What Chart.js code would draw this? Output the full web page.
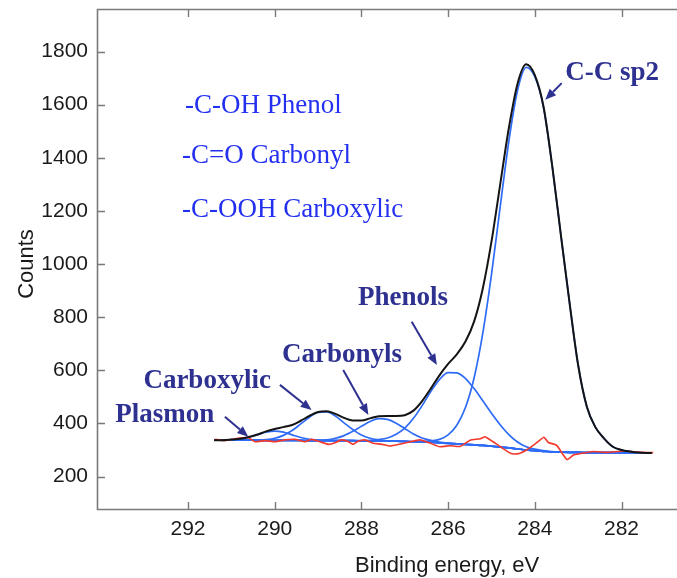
<!DOCTYPE html>
<html>
<head>
<meta charset="utf-8">
<script src="https://cdn.jsdelivr.net/npm/chart.js@4.4.1/dist/chart.umd.min.js"></script>
<style>
  html, body { margin: 0; padding: 0; background: #ffffff; }
  canvas { display: block; }
</style>
</head>
<body>
<canvas id="xps" width="677" height="578"></canvas>
<script>
// C 1s spectrum: binding energy grid (eV) shared by the fit curves
const energies = [291.4, 291.2, 291.0, 290.8, 290.6, 290.4, 290.2, 290.0, 289.8, 289.6,
  289.4, 289.2, 289.0, 288.8, 288.6, 288.4, 288.2, 288.0, 287.8, 287.6,
  287.4, 287.2, 287.0, 286.8, 286.6, 286.4, 286.2, 286.0, 285.8, 285.6,
  285.4, 285.2, 285.0, 284.8, 284.6, 284.4, 284.2, 284.0, 283.8, 283.6,
  283.4, 283.2, 283.0, 282.8, 282.6, 282.4, 282.2, 282.0, 281.8, 281.6,
  281.4, 281.3];

// Shirley background
const background = [337, 337, 337, 337, 337, 336, 336, 336, 336, 336,
  336, 335, 335, 335, 335, 335, 335, 334, 334, 334,
  333, 333, 332, 331, 330, 329, 327, 325, 323, 321,
  319, 317, 314, 311, 308, 304, 300, 297, 295, 293,
  292, 291, 291, 290, 290, 290, 290, 290, 290, 289,
  289, 289];

// Fitted components (counts, background included)
const plasmon = [337, 337, 339, 342, 348, 357, 367, 371, 367, 357,
  347, 340, 337, 335, 335, 335, 335, 334, 334, 334,
  333, 333, 332, 331, 330, 329, 327, 325, 323, 321,
  319, 317, 314, 311, 308, 304, 300, 297, 295, 293,
  292, 291, 291, 290, 290, 290, 290, 290, 290, 289,
  289, 289];

const carboxylic = [337, 337, 337, 337, 337, 337, 339, 344, 355, 373,
  398, 423, 441, 443, 428, 402, 377, 356, 344, 338,
  334, 333, 332, 331, 330, 329, 327, 325, 323, 321,
  319, 317, 314, 311, 308, 304, 300, 297, 295, 293,
  292, 291, 291, 290, 290, 290, 290, 290, 290, 289,
  289, 289];

const carbonyl = [337, 337, 337, 337, 337, 336, 336, 336, 336, 336,
  336, 335, 336, 338, 344, 354, 370, 389, 407, 418,
  415, 401, 381, 360, 345, 336, 330, 326, 323, 321,
  319, 317, 314, 311, 308, 304, 300, 297, 295, 293,
  292, 291, 291, 290, 290, 290, 290, 290, 290, 289,
  289, 289];

const phenol = [337, 337, 337, 337, 337, 336, 336, 336, 336, 336,
  336, 335, 335, 335, 335, 335, 335, 335, 336, 339,
  345, 359, 382, 419, 467, 520, 565, 591, 590, 569,
  531, 485, 438, 395, 358, 330, 312, 303, 298, 294,
  292, 291, 291, 290, 290, 290, 290, 290, 290, 289,
  289, 289];

const sp2 = [337, 337, 337, 337, 337, 336, 336, 336, 336, 336,
  336, 335, 335, 335, 335, 335, 335, 334, 334, 334,
  333, 333, 332, 331, 332, 334, 340, 357, 393, 460,
  572, 740, 960, 1214, 1461, 1652, 1740, 1705, 1590, 1370,
  1111, 856, 619, 463, 385, 343, 312, 300, 294, 290,
  289, 289];

// Envelope of the fit
const envelope = [337, 337, 339, 342, 349, 358, 370, 379, 386, 394,
  410, 428, 443, 446, 436, 421, 411, 411, 419, 427,
  428, 428, 431, 448, 484, 531, 581, 624, 660, 708,
  784, 908, 1084, 1298, 1511, 1678, 1752, 1711, 1593, 1371,
  1111, 856, 619, 463, 385, 343, 312, 300, 294, 290,
  289, 289];

// Residual trace (own energy sampling)
const residualEnergies = [291.38, 291.15, 290.84, 290.61, 290.46, 290.22, 289.99, 289.76, 289.53, 289.30,
  289.15, 288.96, 288.76, 288.61, 288.46, 288.30, 288.19, 288.07, 287.92, 287.73,
  287.55, 287.34, 287.11, 286.88, 286.65, 286.42, 286.19, 285.96, 285.73, 285.49,
  285.26, 285.15, 285.03, 284.88, 284.73, 284.61, 284.50, 284.34, 284.19, 284.03,
  283.92, 283.79, 283.69, 283.50, 283.26, 283.11, 282.96, 282.65, 282.34, 281.96,
  281.57, 281.27];
const residualCounts = [340, 335, 344, 346, 331, 335, 331, 338, 340, 331,
  340, 331, 321, 327, 338, 331, 321, 334, 338, 325,
  322, 315, 322, 331, 338, 326, 312, 316, 313, 337,
  342, 350, 338, 322, 305, 292, 285, 288, 300, 318,
  332, 348, 328, 318, 264, 281, 286, 294, 291, 296,
  291, 290];

// Axis ticks
const xTicks = [292, 290, 288, 286, 284, 282];
const yTicks = [200, 400, 600, 800, 1000, 1200, 1400, 1600, 1800];

// Chemical-state legend text and peak labels with their arrows (data units)
const stateNotes = ['-C-OH Phenol', '-C=O Carbonyl', '-C-OOH Carboxylic'];
const stateNoteAnchors = [[292.07, 1569], [292.14, 1381], [292.14, 1178]];
const peakLabels = ['C-C sp2', 'Phenols', 'Carbonyls', 'Carboxylic', 'Plasmon'];
const peakLabelAnchors = [[283.30, 1693], [288.08, 846], [289.83, 631], [293.03, 532], [293.68, 406]];
const arrowTails = [[283.38, 1681], [286.84, 783], [288.42, 601], [289.88, 545], [291.15, 425]];
const arrowHeads = [[283.76, 1618], [286.26, 620], [287.84, 432], [289.15, 450], [290.61, 350]];

const toPoints = (xs, ys) => xs.map((x, i) => ({ x: x, y: ys[i] }));

const BLUE = '#2f6cf6';
const NAVY = '#2e3190';
const NOTE_BLUE = '#2430f0';

const frameAndNotes = {
  id: 'frameAndNotes',
  afterDraw(chart) {
    const ctx = chart.ctx;
    const area = chart.chartArea;
    const xs = chart.scales.x, ys = chart.scales.y;
    ctx.save();

    // axis box (left, top, bottom)
    ctx.strokeStyle = '#7a7a7a';
    ctx.lineWidth = 1.6;
    ctx.beginPath();
    ctx.moveTo(area.right, area.top + 0.5);
    ctx.lineTo(area.left + 0.5, area.top + 0.5);
    ctx.lineTo(area.left + 0.5, area.bottom - 0.5);
    ctx.lineTo(area.right, area.bottom - 0.5);
    ctx.stroke();

    // inward tick marks
    ctx.lineWidth = 1.4;
    ctx.beginPath();
    yTicks.forEach(v => {
      const py = Math.round(ys.getPixelForValue(v)) + 0.5;
      ctx.moveTo(area.left, py);
      ctx.lineTo(area.left + 8, py);
    });
    xTicks.forEach(v => {
      const px = Math.round(xs.getPixelForValue(v)) + 0.5;
      ctx.moveTo(px, area.bottom);
      ctx.lineTo(px, area.bottom - 8);
      ctx.moveTo(px, area.top);
      ctx.lineTo(px, area.top + 8);
    });
    ctx.stroke();

    // axis titles
    ctx.fillStyle = '#1a1a1a';
    ctx.font = '22px "Liberation Sans", Arial, sans-serif';
    ctx.textAlign = 'left';
    ctx.textBaseline = 'alphabetic';
    ctx.fillText('Binding energy, eV', 355, 572);
    ctx.save();
    ctx.translate(33, 264);
    ctx.rotate(-Math.PI / 2);
    ctx.textAlign = 'center';
    ctx.fillText('Counts', 0, 0);
    ctx.restore();

    // chemical-state notes
    ctx.fillStyle = NOTE_BLUE;
    ctx.font = '27px "Liberation Serif", "Times New Roman", serif';
    ctx.textAlign = 'left';
    stateNotes.forEach((t, i) => {
      const a = stateNoteAnchors[i];
      ctx.fillText(t, xs.getPixelForValue(a[0]), ys.getPixelForValue(a[1]));
    });

    // peak labels
    ctx.fillStyle = NAVY;
    ctx.font = 'bold 27px "Liberation Serif", "Times New Roman", serif';
    peakLabels.forEach((t, i) => {
      const a = peakLabelAnchors[i];
      ctx.fillText(t, xs.getPixelForValue(a[0]), ys.getPixelForValue(a[1]));
    });

    // arrows
    ctx.strokeStyle = NAVY;
    ctx.lineWidth = 2;
    arrowTails.forEach((tail, i) => {
      const x0 = xs.getPixelForValue(tail[0]), y0 = ys.getPixelForValue(tail[1]);
      const x1 = xs.getPixelForValue(arrowHeads[i][0]), y1 = ys.getPixelForValue(arrowHeads[i][1]);
      const ang = Math.atan2(y1 - y0, x1 - x0);
      const len = 11, half = 4.5;
      const bx = x1 - len * Math.cos(ang), by = y1 - len * Math.sin(ang);
      ctx.beginPath();
      ctx.moveTo(x0, y0);
      ctx.lineTo(bx, by);
      ctx.stroke();
      ctx.beginPath();
      ctx.moveTo(x1, y1);
      ctx.lineTo(bx + half * Math.sin(ang), by - half * Math.cos(ang));
      ctx.lineTo(bx - half * Math.sin(ang), by + half * Math.cos(ang));
      ctx.closePath();
      ctx.fill();
    });

    ctx.restore();
  }
};

const blueLine = (label, values) => ({
  label: label,
  data: toPoints(energies, values),
  borderColor: BLUE,
  borderWidth: 1.7,
  cubicInterpolationMode: 'monotone',
  order: 3
});

new Chart(document.getElementById('xps'), {
  type: 'line',
  data: {
    datasets: [
      {
        label: 'Envelope',
        data: toPoints(energies, envelope),
        borderColor: '#141414',
        borderWidth: 2,
        cubicInterpolationMode: 'monotone',
        order: 0
      },
      {
        label: 'Residual',
        data: toPoints(residualEnergies, residualCounts),
        borderColor: '#f2392b',
        borderWidth: 1.6,
        tension: 0.15,
        order: 1
      },
      blueLine('Background', background),
      blueLine('Plasmon', plasmon),
      blueLine('Carboxylic', carboxylic),
      blueLine('Carbonyl', carbonyl),
      blueLine('Phenol', phenol),
      blueLine('C-C sp2', sp2)
    ]
  },
  options: {
    responsive: false,
    animation: false,
    devicePixelRatio: 1,
    layout: { padding: { top: 9, right: 0, bottom: 0, left: 0 } },
    elements: { point: { radius: 0 } },
    plugins: { legend: { display: false }, tooltip: { enabled: false } },
    scales: {
      x: {
        type: 'linear',
        reverse: true,
        min: 280.72,
        max: 294.10,
        afterBuildTicks: s => { s.ticks = xTicks.map(v => ({ value: v })); },
        afterFit: s => { s.height = 68; s.paddingLeft = 0; s.paddingRight = 0; },
        grid: { display: false, drawTicks: false },
        border: { display: false },
        ticks: {
          autoSkip: false,
          maxRotation: 0,
          padding: 7,
          color: '#1a1a1a',
          font: { family: '"Liberation Sans", Arial, sans-serif', size: 21 },
          callback: v => String(v)
        }
      },
      y: {
        min: 74,
        max: 1960,
        afterBuildTicks: s => { s.ticks = yTicks.map(v => ({ value: v })); },
        afterFit: s => { s.width = 97; s.paddingTop = 0; s.paddingBottom = 0; },
        grid: { display: false, drawTicks: false },
        border: { display: false },
        ticks: {
          padding: 9,
          color: '#1a1a1a',
          font: { family: '"Liberation Sans", Arial, sans-serif', size: 21 },
          callback: v => String(v)
        }
      }
    }
  },
  plugins: [frameAndNotes]
});
</script>
</body>
</html>
